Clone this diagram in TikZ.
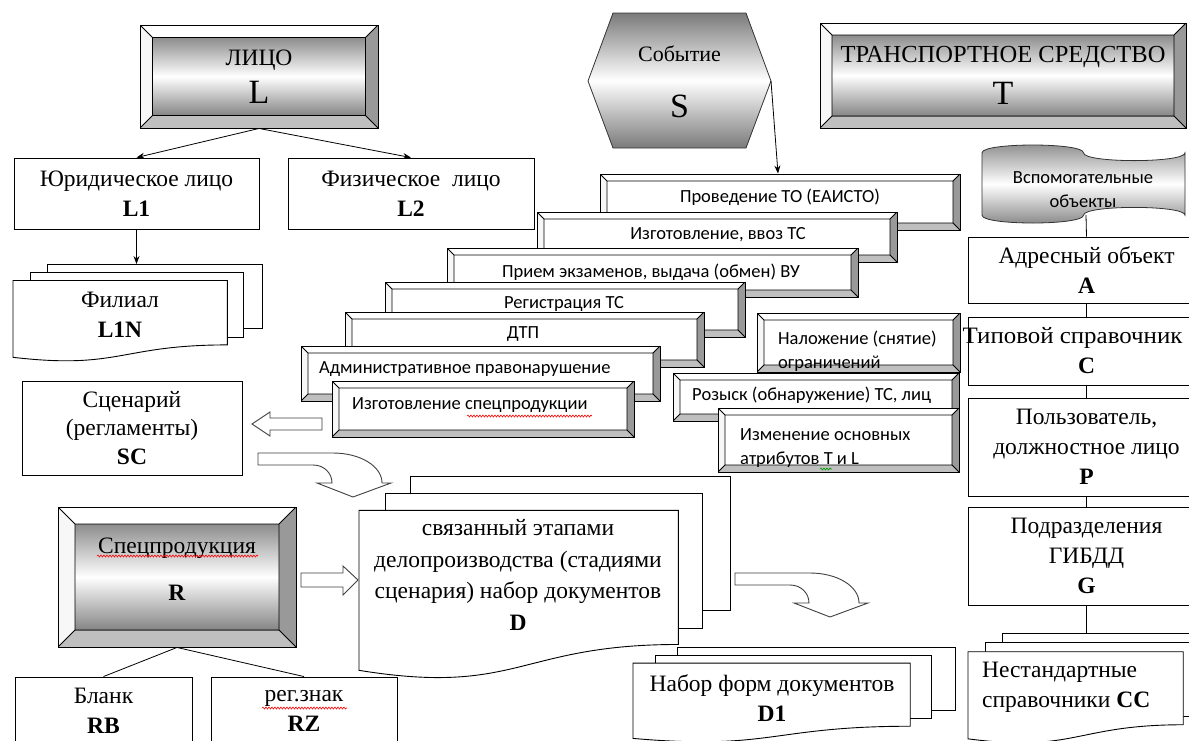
\documentclass[tikz,border=0pt]{standalone}
\usepackage{fontspec}
\setmainfont{Liberation Serif}
\newfontfamily\calibri{Carlito}
\usetikzlibrary{arrows.meta,calc,decorations.pathmorphing}

\newcommand\serf{\fontsize{23.5pt}{30pt}\selectfont}
\newcommand\bigletter{\fontsize{34pt}{40pt}\selectfont}

% bevel faces of a box, drawn inside the node
\newcommand\bevelfaces[2]{%
  \coordinate (bva) at (path picture bounding box.north west);
  \coordinate (bvb) at (path picture bounding box.north east);
  \coordinate (bvc) at (path picture bounding box.south east);
  \coordinate (bvd) at (path picture bounding box.south west);
  \coordinate (bvA) at ($(bva)+(#1,-#1)$);
  \coordinate (bvB) at ($(bvb)+(-#1,-#1)$);
  \coordinate (bvC) at ($(bvc)+(-#1,#1)$);
  \coordinate (bvD) at ($(bvd)+(#1,#1)$);
  \fill[white] (bva) -- (bvb) -- (bvB) -- (bvA) -- cycle;
  \fill[black!3] (bva) -- (bvA) -- (bvD) -- (bvd) -- cycle;
  \fill[black!40] (bvb) -- (bvc) -- (bvC) -- (bvB) -- cycle;
  \fill[black!25] (bvd) -- (bvD) -- (bvC) -- (bvc) -- cycle;
  #2 (bvA) rectangle (bvC);
  \draw[line width=0.8pt] (bvA) rectangle (bvC) (bva) -- (bvA) (bvb) -- (bvB)
    (bvc) -- (bvC) (bvd) -- (bvD);
}

% stack of documents: name, x, y, w, h
\newcommand\multidoc[5]{%
  \filldraw[docline] ({#2+0.138*#4},#3) rectangle ({#2+#4},{#3+0.666*#5});
  \filldraw[docline] ({#2+0.071*#4},{#3+0.084*#5}) rectangle ({#2+0.926*#4},{#3+0.757*#5});
  \filldraw[docline] (#2,{#3+0.17*#5}) -- ({#2+0.861*#4},{#3+0.17*#5})
    -- ({#2+0.861*#4},{#3+0.834*#5})
    .. controls ({#2+0.43*#4},{#3+0.834*#5}) and ({#2+0.43*#4},{#3+1.09*#5}) .. (#2,{#3+0.962*#5})
    -- cycle;
  \coordinate (#1top) at ({#2+0.5*#4},#3);
}

% curved block arrow pointing down
\newcommand\bentarrow[2]{%
  \draw[hollow] (#1,#2) -- ({#1+75},#2)
    .. controls ({#1+102},#2) and ({#1+124},{#2+13}) .. ({#1+124},{#2+30})
    -- ({#1+133},{#2+30}) -- ({#1+95},{#2+44}) -- ({#1+59},{#2+30}) -- ({#1+74},{#2+30})
    .. controls ({#1+74},{#2+20}) and ({#1+66},{#2+12}) .. ({#1+55},{#2+12})
    -- (#1,{#2+12}) -- cycle;
}

\tikzset{
  >={Stealth[length=8pt,width=6pt]},
  link/.style={draw=black, line width=0.8pt},
  plainbox/.style={draw=black, line width=0.9pt, fill=white, inner sep=0pt, align=center, font=\serf},
  bevelbase/.style={draw=black, line width=0.9pt, fill=white, inner sep=0pt, align=center, font=\serf},
  bevel/.style={bevelbase, path picture={\bevelfaces{#1}{\fill[white]}}},
  bevelgrad/.style={bevelbase, path picture={\bevelfaces{#1}{\shade[top color=black!45, bottom color=black!48, middle color=white]}}},
  evtext/.style={font=\calibri\fontsize{18.5pt}{24pt}\selectfont, inner sep=0pt, align=left},
  doctext/.style={font=\serf, inner sep=0pt, align=center},
  docline/.style={draw=black, line width=0.9pt, fill=white},
  hollow/.style={draw=black!75, line width=0.9pt, fill=white, line join=miter},
  spell/.style={draw=red, line width=0.6pt, decorate, decoration={snake, amplitude=1pt, segment length=3pt}},
}

\begin{document}
\begin{tikzpicture}[x=1pt, y=-1pt]
\useasboundingbox (0,0) rectangle (1189,740);
\clip (0,0) rectangle (1189,740);
\fill[white] (0,0) rectangle (1189,740);

% person
\node[bevelgrad=12.5pt, minimum width=238pt, minimum height=103pt] (L) at (259,76.5)
  {\fontsize{23.5pt}{28pt}\selectfont ЛИЦО\\[8pt]\bigletter L};
\node[plainbox, minimum width=245pt, minimum height=71pt] (L1) at (136.5,193.5) {Юридическое лицо\\\textbf{L1}};
\node[plainbox, minimum width=246pt, minimum height=71pt] (L2) at (411,193.5) {Физическое~~лицо\\\textbf{L2}};
\draw[link,->] (L.south) -- (L1.north);
\draw[link,->] (L.south) -- (L2.north);
\multidoc{L1N}{13}{264}{249}{97}
\node[doctext] (L1N) at (120,315) {Филиал\\\textbf{L1N}};
\draw[link,->] (L1.south) -- (L1.south |- L1Ntop);

% scenario
\node[plainbox, minimum width=220pt, minimum height=94pt, font=\fontsize{23.5pt}{28.5pt}\selectfont] (SC) at (132,428)
  {Сценарий\\(регламенты)\\\textbf{SC}};

% special products
\node[bevelgrad=17pt, minimum width=238pt, minimum height=140pt, text depth=16pt] (R) at (177,577)
  {Спецпродукция\\[17pt]\textbf{R}};
\node[plainbox, minimum width=177pt, minimum height=68pt] (RB) at (103.5,711) {Бланк\\\textbf{RB}};
\node[plainbox, minimum width=186pt, minimum height=68pt] (RZ) at (304,711) {рег.знак\\\textbf{RZ}};
\draw[link] (R.south) -- (RB.north);
\draw[link] (R.south) -- (RZ.north);

% documents
\multidoc{D}{359}{476}{371}{202}
\node[doctext, font=\fontsize{23.5pt}{31.5pt}\selectfont] (D) at (518,575)
  {связанный этапами\\делопроизводства (стадиями\\сценария) набор документов\\\textbf{D}};
\multidoc{D1}{633}{647}{322}{95}
\node[doctext] (D1) at (772,698.5) {Набор форм документов\\\textbf{D1}};

% block arrows
\draw[hollow] (322,418) -- (270,418) -- (270,412) -- (252,424) -- (270,436) -- (270,430) -- (322,430) -- cycle;
\draw[hollow] (301,573) -- (343,573) -- (343,566) -- (358,580) -- (343,595) -- (343,587) -- (301,587) -- cycle;
\bentarrow{258}{453}
\bentarrow{735}{573}

% event
\shadedraw[top color=black!52, bottom color=black!52, middle color=white, draw=black!80, line width=0.8pt]
  (588,81) -- (613,13) -- (746,13) -- (771,81) -- (746,148) -- (613,148) -- cycle;
\coordinate (Sr) at (771,81);
\node[doctext, font=\fontsize{22pt}{26pt}\selectfont] (S) at (679.5,81.5) {Событие\\[30pt]\bigletter S};

% vehicle
\node[bevelgrad=12pt, minimum width=366pt, minimum height=105pt] (T) at (1003,75.5)
  {\fontsize{24.5pt}{29pt}\selectfont ТРАНСПОРТНОЕ СРЕДСТВО\\[12pt]\bigletter T};

% kinds of events
\node[bevel=7pt, minimum width=360pt, minimum height=56pt] (E1) at (780,202) {};
\node[evtext] (E1t) at (780,197) {Проведение ТО (ЕАИСТО)};
\node[bevel=7pt, minimum width=360pt, minimum height=50pt] (E2) at (717,237) {};
\node[evtext] (E2t) at (718,235) {Изготовление, ввоз ТС};
\node[bevel=7pt, minimum width=411pt, minimum height=49pt] (E3) at (652.5,272.5) {};
\node[evtext] (E3t) at (651,272) {Прием экзаменов, выдача (обмен) ВУ};
\node[bevel=7pt, minimum width=360pt, minimum height=55pt] (E4) at (565,309.5) {};
\node[evtext] (E4t) at (564,304) {Регистрация ТС};
\node[bevel=7pt, minimum width=359pt, minimum height=55pt] (E5) at (524.5,339.5) {};
\node[evtext] (E5t) at (523,334) {ДТП};
\node[bevel=7pt, minimum width=359pt, minimum height=55pt] (E6) at (480.5,373.5) {};
\node[evtext, anchor=west] (E6t) at (319,369) {Административное правонарушение};
\node[bevel=7pt, minimum width=302pt, minimum height=56pt] (E7) at (483,409) {};
\node[evtext, anchor=west] (E7t) at (352,405) {Изготовление спецпродукции};
\node[bevel=7pt, minimum width=203pt, minimum height=59pt] (E8) at (858.5,342.5) {};
\node[evtext, anchor=west] (E8t) at (778,351) {Наложение (снятие)\\ограничений};
\node[bevel=7pt, minimum width=286pt, minimum height=48pt] (E9) at (816,397) {};
\node[evtext, anchor=west] (E9t) at (692,395) {Розыск (обнаружение) ТС, лиц};
\node[bevel=7pt, minimum width=241pt, minimum height=64pt] (E10) at (838.5,440) {};
\node[evtext, anchor=west] (E10t) at (740,448) {Изменение основных\\атрибутов Т и L};
\draw[link,->] (Sr) -- ([xshift=7pt]Sr |- E1.north);

% auxiliary objects
\shadedraw[top color=black!45, bottom color=black!48, middle color=white, draw=black!80, line width=0.8pt]
  (982,152.8) .. controls (982,142.4) and (1083.5,142.4) .. (1083.5,152.8)
  .. controls (1083.5,163.2) and (1185,163.2) .. (1185,152.8) -- (1185,215.2)
  .. controls (1185,204.8) and (1083.5,204.8) .. (1083.5,215.2)
  .. controls (1083.5,225.6) and (982,225.6) .. (982,215.2) -- cycle;
\node[evtext, align=center] (V) at (1083,190) {Вспомогательные\\объекты};
\coordinate (Vb) at (1086,215);
\node[plainbox, minimum width=237pt, minimum height=66pt] (A) at (1086.5,270) {Адресный объект\\\textbf{A}};
\node[plainbox, minimum width=237pt, minimum height=68pt] (C) at (1086.5,351)
  {\makebox[0pt]{\hspace*{-28pt}\scalebox{1.06}[1]{Типовой справочник}}\\\textbf{C}};
\node[plainbox, minimum width=237pt, minimum height=98pt] (P) at (1086.5,447) {Пользователь,\\должностное лицо\\\textbf{P}};
\node[plainbox, minimum width=237pt, minimum height=98pt] (G) at (1086.5,556) {Подразделения\\ГИБДД\\\textbf{G}};
\multidoc{CC}{968}{633}{250}{110}
\node[doctext, anchor=west, align=left] (CC) at (982,687) {Нестандартные\\справочники \textbf{CC}};
\draw[link] (Vb) -- (A.north);
\draw[link] (A) -- (C);
\draw[link] (C) -- (P);
\draw[link] (P) -- (G);
\draw[link] (G.south) -- (G.south |- CCtop);

% spelling marks
\draw[spell] (97,556) -- (258,556);
\draw[spell] (467,416) -- (592,416);
\draw[spell] (262,708) -- (347,708);
\draw[spell, draw=green!60!black] (820,469) -- (832,469);
\end{tikzpicture}
\end{document}
